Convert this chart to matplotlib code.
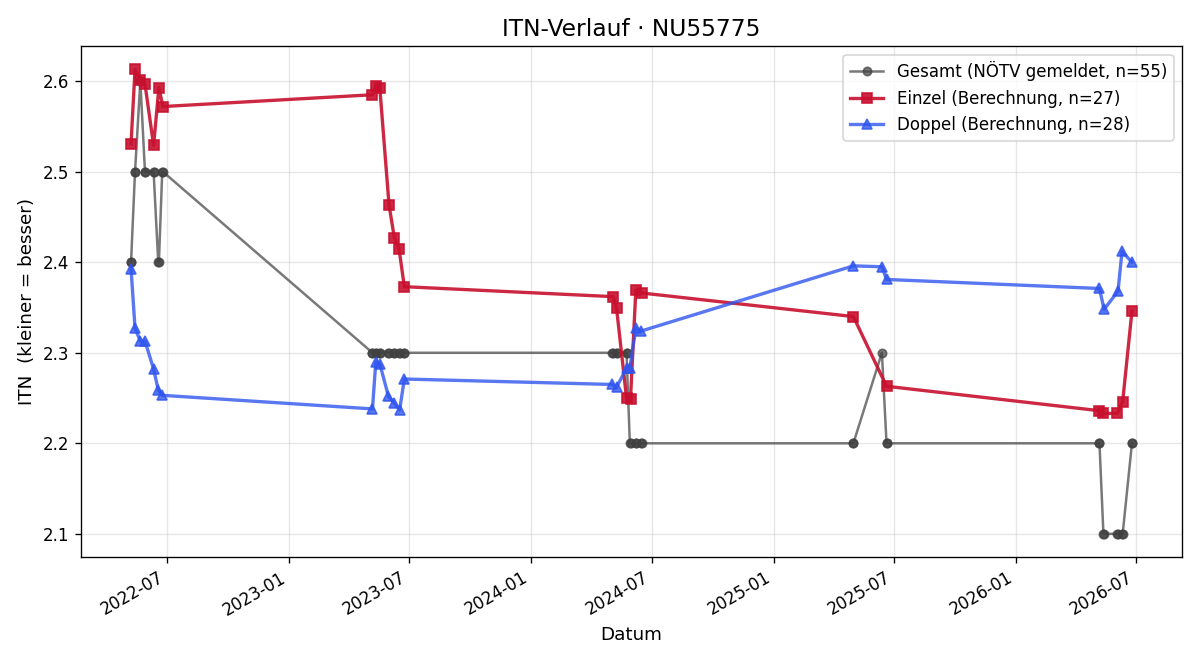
import matplotlib
matplotlib.use("Agg")
import matplotlib.pyplot as plt
import matplotlib.dates as mdates
import pandas as pd

# Match dates (Einzel and Doppel share dates, Doppel has one extra in 2025)
einzel_dates = [
    "2022-05-08", "2022-05-14", "2022-05-22", "2022-05-29", "2022-06-11", "2022-06-19", "2022-06-25",
    "2023-05-07", "2023-05-12", "2023-05-18", "2023-06-01", "2023-06-09", "2023-06-16", "2023-06-24",
    "2024-05-04", "2024-05-09", "2024-05-24", "2024-05-30", "2024-06-07", "2024-06-16",
    "2025-05-01", "2025-06-20",
    "2026-05-07", "2026-05-13", "2026-06-03", "2026-06-11", "2026-06-25",
]
einzel_values = [
    2.531, 2.613, 2.601, 2.597, 2.529, 2.593, 2.572,
    2.585, 2.595, 2.593, 2.463, 2.427, 2.415, 2.373,
    2.362, 2.349, 2.250, 2.249, 2.369, 2.366,
    2.340, 2.263,
    2.236, 2.233, 2.233, 2.246, 2.346,
]

doppel_dates = [
    "2022-05-08", "2022-05-14", "2022-05-22", "2022-05-29", "2022-06-11", "2022-06-18", "2022-06-24",
    "2023-05-07", "2023-05-12", "2023-05-18", "2023-05-31", "2023-06-08", "2023-06-17", "2023-06-24",
    "2024-05-02", "2024-05-09", "2024-05-24", "2024-05-29", "2024-06-07", "2024-06-15",
    "2025-05-01", "2025-06-13", "2025-06-20",
    "2026-05-07", "2026-05-14", "2026-06-04", "2026-06-10", "2026-06-25",
]
doppel_values = [
    2.393, 2.327, 2.313, 2.313, 2.282, 2.259, 2.253,
    2.238, 2.290, 2.288, 2.252, 2.245, 2.237, 2.271,
    2.265, 2.262, 2.283, 2.283, 2.327, 2.324,
    2.396, 2.395, 2.381,
    2.371, 2.348, 2.368, 2.412, 2.400,
]

# Gesamt (NÖTV gemeldet) at every match
gesamt_e = [
    2.4, 2.5, 2.6, 2.5, 2.5, 2.4, 2.5,
    2.3, 2.3, 2.3, 2.3, 2.3, 2.3, 2.3,
    2.3, 2.3, 2.3, 2.2, 2.2, 2.2,
    2.2, 2.2,
    2.2, 2.1, 2.1, 2.1, 2.2,
]
gesamt_d = [
    2.4, 2.5, 2.6, 2.5, 2.5, 2.4, 2.5,
    2.3, 2.3, 2.3, 2.3, 2.3, 2.3, 2.3,
    2.3, 2.3, 2.3, 2.2, 2.2, 2.2,
    2.2, 2.3, 2.2,
    2.2, 2.1, 2.1, 2.1, 2.2,
]

ge = pd.DataFrame({"d": pd.to_datetime(einzel_dates), "v": gesamt_e})
gd = pd.DataFrame({"d": pd.to_datetime(doppel_dates), "v": gesamt_d})
gesamt = pd.concat([ge, gd]).sort_values("d", kind="stable")

fig, ax = plt.subplots(figsize=(10, 5.5), dpi=120)

ax.plot(gesamt["d"], gesamt["v"], color="#404040", alpha=0.7, linewidth=1.5,
        marker="o", markersize=5, label="Gesamt (NÖTV gemeldet, n=55)")
ax.plot(pd.to_datetime(einzel_dates), einzel_values, color="#c8102e", alpha=0.9,
        linewidth=2, marker="s", markersize=6, label="Einzel (Berechnung, n=27)")
ax.plot(pd.to_datetime(doppel_dates), doppel_values, color="#2f55ee", alpha=0.8,
        linewidth=2, marker="^", markersize=6, label="Doppel (Berechnung, n=28)")

ax.set_title("ITN-Verlauf · NU55775", fontsize=14)
ax.set_xlabel("Datum", fontsize=11)
ax.set_ylabel("ITN  (kleiner = besser)", fontsize=11)
ax.grid(True, alpha=0.3)
ax.xaxis.set_major_formatter(mdates.DateFormatter("%Y-%m"))
ax.legend(loc="upper right", fontsize=10)
fig.autofmt_xdate()
fig.subplots_adjust(left=0.0675, right=0.985, top=0.930, bottom=0.156)
fig.savefig("out.png", dpi=120)
